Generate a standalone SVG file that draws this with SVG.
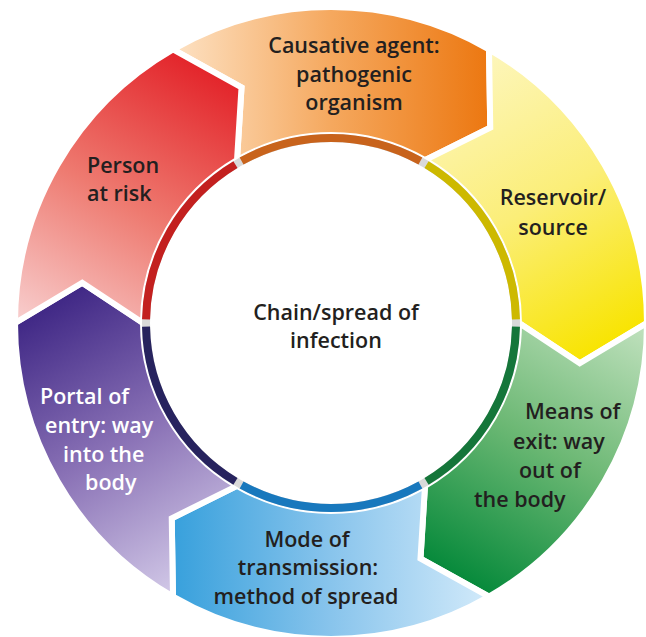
<svg xmlns="http://www.w3.org/2000/svg" width="646" height="637" viewBox="0 0 646 637">
<style>
.seg{stroke:#fff;stroke-width:6;stroke-linejoin:miter}
.arc{fill:none;stroke-width:8}
.t{font-family:"Open Sans","Liberation Sans",sans-serif;font-weight:600;font-size:21.5px;fill:#231f20}
.w{fill:#ffffff}
.c{text-anchor:middle}
</style>
<defs>
<path id="segshape" d="M173,49.34 A316,316 0 0 1 489,49.34 L490.26,127.73 L425,160.19 A188,188 0 0 0 237,160.19 L241.51,87.43 Z"/>
<path id="arcshape" d="M241.59,161.03 A185,185 0 0 1 420.41,161.03"/>
<linearGradient id="gOrange" x1="0" y1="0" x2="1" y2="0"><stop offset="0" stop-color="#fde2c4"/><stop offset="0.5" stop-color="#f5a85e"/><stop offset="1" stop-color="#ec7710"/></linearGradient>
<linearGradient id="gYellow" x1="0" y1="0" x2="1" y2="0"><stop offset="0" stop-color="#fdf6bc"/><stop offset="0.5" stop-color="#fbee78"/><stop offset="1" stop-color="#f8e400"/></linearGradient>
<linearGradient id="gGreen" x1="0" y1="0" x2="1" y2="0"><stop offset="0" stop-color="#c2e2bf"/><stop offset="0.5" stop-color="#6cb874"/><stop offset="1" stop-color="#05893a"/></linearGradient>
<linearGradient id="gBlue" x1="0" y1="0" x2="1" y2="0"><stop offset="0" stop-color="#d2eafa"/><stop offset="0.5" stop-color="#88c4ec"/><stop offset="1" stop-color="#37a0dc"/></linearGradient>
<linearGradient id="gPurple" x1="0" y1="0" x2="1" y2="0"><stop offset="0" stop-color="#d3cae8"/><stop offset="0.5" stop-color="#8a72b6"/><stop offset="1" stop-color="#3f2785"/></linearGradient>
<linearGradient id="gRed" x1="0" y1="0" x2="1" y2="0"><stop offset="0" stop-color="#f8d0d0"/><stop offset="0.5" stop-color="#ee7a70"/><stop offset="1" stop-color="#e3242a"/></linearGradient>
</defs>
<rect width="646" height="637" fill="#ffffff"/>

<g id="connectors"></g>

<g id="node-causative">
<use href="#segshape" class="seg" fill="url(#gOrange)"/>
<text class="t c" x="354" y="53">Causative agent:</text>
<text class="t c" x="354" y="82">pathogenic</text>
<text class="t c" x="354" y="110">organism</text>
</g>

<g id="node-reservoir">
<use href="#segshape" class="seg" fill="url(#gYellow)" transform="rotate(60 331 323)"/>
<text class="t c" x="553" y="205">Reservoir/</text>
<text class="t c" x="553" y="235">source</text>
</g>

<g id="node-exit">
<use href="#segshape" class="seg" fill="url(#gGreen)" transform="rotate(120 331 323)"/>
<text class="t" x="525" y="419">Means of</text>
<text class="t" x="513" y="449">exit: way</text>
<text class="t" x="519" y="478">out of</text>
<text class="t" x="474" y="507">the body</text>
</g>

<g id="node-transmission">
<use href="#segshape" class="seg" fill="url(#gBlue)" transform="rotate(180 331 323)"/>
<text class="t c" x="307" y="547">Mode of</text>
<text class="t c" x="308" y="575">transmission:</text>
<text class="t c" x="306" y="604">method of spread</text>
</g>

<g id="node-entry">
<use href="#segshape" class="seg" fill="url(#gPurple)" transform="rotate(240 331 323)"/>
<text class="t w" x="40" y="404">Portal of</text>
<text class="t w" x="45" y="433">entry: way</text>
<text class="t w" x="63" y="462">into the</text>
<text class="t w" x="85" y="490">body</text>
</g>

<g id="node-person">
<use href="#segshape" class="seg" fill="url(#gRed)" transform="rotate(300 331 323)"/>
<text class="t" x="87" y="173">Person</text>
<text class="t" x="87" y="201">at risk</text>
</g>

<g id="ring">
<circle cx="331" cy="323" r="185" fill="#ffffff" stroke="#d9d9d9" stroke-width="8"/>
<use href="#arcshape" class="arc" stroke="#c8631c"/>
<use href="#arcshape" class="arc" stroke="#cdb900" transform="rotate(60 331 323)"/>
<use href="#arcshape" class="arc" stroke="#15763a" transform="rotate(120 331 323)"/>
<use href="#arcshape" class="arc" stroke="#1878bd" transform="rotate(180 331 323)"/>
<use href="#arcshape" class="arc" stroke="#27235e" transform="rotate(240 331 323)"/>
<use href="#arcshape" class="arc" stroke="#c3201f" transform="rotate(300 331 323)"/>
</g>

<g id="node-center">
<text class="t c" x="336" y="320">Chain/spread of</text>
<text class="t c" x="336" y="348">infection</text>
</g>
</svg>
